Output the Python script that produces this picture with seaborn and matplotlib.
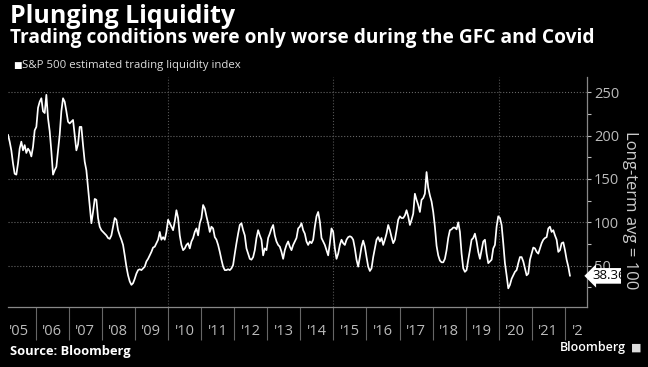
import pandas as pd
import matplotlib
matplotlib.use("Agg")
import matplotlib.pyplot as plt
import matplotlib.dates as mdates
import matplotlib.ticker as mticker
import matplotlib.transforms as mtransforms
import seaborn as sns

liq_2005_08 = [201, 193, 183, 168, 156, 155, 168, 185, 193, 183, 189, 180, 185, 182, 176, 187,
               206, 210, 232, 239, 243, 228, 226, 247, 220, 205, 182, 155, 160, 164, 182, 201,
               228, 243, 239, 228, 216, 214, 216, 218, 200, 183, 190, 210, 210, 189, 170, 160,
               140, 120, 99, 112, 127, 126, 105, 95, 91, 89, 87, 85, 82, 81, 85, 95]
liq_2008_11 = [105, 103, 91, 85, 80, 74, 62, 49, 39, 32, 28, 30, 35, 41, 45, 46, 45, 47, 49, 55,
               58, 62, 66, 71, 72, 76, 80, 89, 80, 83, 80, 89, 103, 99, 95, 91, 101, 114, 105, 85,
               74, 68, 70, 74, 76, 70, 78, 82, 89, 93, 85, 99, 105, 120, 116, 107, 99, 89, 95, 93,
               83, 80, 74, 66, 57, 49, 45, 45, 46]
liq_2011_15 = [45, 47, 51, 64, 76, 87, 97, 99, 91, 85, 70, 64, 58, 57, 60, 68, 82, 91, 85, 80,
               62, 70, 68, 82, 87, 93, 97, 85, 78, 74, 72, 66, 58, 68, 74, 78, 72, 68, 74, 78,
               82, 93, 95, 99, 91, 87, 78, 74, 78, 76, 80, 95, 107, 112, 101, 82, 78, 74, 68, 62,
               76, 93, 89, 70, 58, 64, 74, 80, 76]
liq_2015_18 = [74, 80, 83, 84, 83, 80, 70, 57, 49, 60, 72, 79, 72, 60, 49, 44, 47, 60, 70, 80,
               83, 78, 82, 74, 80, 87, 97, 91, 83, 76, 80, 91, 103, 107, 105, 105, 108, 114, 107, 97,
               103, 110, 133, 126, 120, 112, 126, 128, 133, 158, 140, 131, 124, 112, 95, 73, 62, 56, 54, 54,
               58, 68, 82, 91, 92, 94, 94, 92, 100]
liq_2018_22 = [89, 64, 47, 43, 45, 57, 68, 80, 82, 87, 78, 66, 58, 68, 78, 80, 64, 53, 55, 57,
               70, 74, 95, 107, 105, 97, 76, 53, 39, 24, 28, 35, 39, 43, 45, 53, 60, 60, 55, 47,
               39, 41, 57, 64, 71, 70, 66, 64, 70, 76, 80, 82, 83, 93, 95, 89, 91, 85, 80, 66,
               68, 76, 77, 68, 57, 49, 38.36]

start_date = "2005-03-01"
end_date = "2022-02-25"
axis_end = "2022-09-01"
grid_years = ["2010-01-01", "2015-01-01", "2020-01-01"]
y_major = [50, 100, 150, 200, 250]
y_minor = [25, 75, 125, 175, 225]

values = liq_2005_08 + liq_2008_11 + liq_2011_15 + liq_2015_18 + liq_2018_22
dates = pd.date_range(start_date, end_date, periods=len(values))
df = pd.DataFrame({"date": dates, "liquidity": values})
last_value = values[-1]

sns.set_theme(style="dark", rc={"axes.facecolor": "black", "figure.facecolor": "black",
                                "savefig.facecolor": "black"})
plt.rcParams["font.family"] = ["Open Sans", "DejaVu Sans"]

fig = plt.figure(figsize=(6.48, 3.67), dpi=100)
ax = fig.add_axes([8 / 648, 60 / 367, 579 / 648, 230 / 367])

sns.lineplot(data=df, x="date", y="liquidity", color="white", lw=1.25, ax=ax)

ax.set_xlim(pd.Timestamp(start_date), pd.Timestamp(axis_end))
ax.set_ylim(2.5, 267.5)
ax.set_xlabel("")
ax.set_ylabel("")

# right hand axis
ax.yaxis.tick_right()
ax.yaxis.set_major_locator(mticker.FixedLocator(y_major))
ax.yaxis.set_minor_locator(mticker.FixedLocator(y_minor))
ax.tick_params(axis="y", which="both", colors="#bbbbbb", labelsize=10.5, length=3,
               width=0.8, direction="out", pad=2, right=True, left=False)
ax.grid(axis="y", which="major", color="#666666", ls=":", lw=0.8)
for g in grid_years:
    ax.axvline(pd.Timestamp(g), color="#555555", ls=":", lw=0.8, zorder=0)

# year separators + labels in between
ax.xaxis.set_major_locator(mdates.YearLocator())
ax.xaxis.set_major_formatter(mticker.NullFormatter())
ax.xaxis.set_minor_locator(mdates.MonthLocator(bymonth=7, bymonthday=1))
ax.xaxis.set_minor_formatter(mdates.DateFormatter("'%y"))
ax.tick_params(axis="x", which="major", length=24, width=0.8, color="#666666",
               direction="out", bottom=True)
ax.tick_params(axis="x", which="minor", length=0, pad=12, labelsize=10.5,
               labelcolor="#bbbbbb", bottom=True)

for side in ["left", "top"]:
    ax.spines[side].set_visible(False)
for side in ["right", "bottom"]:
    ax.spines[side].set_visible(True)
    ax.spines[side].set_color("#888888")
    ax.spines[side].set_linewidth(0.9)

# last value tag
ax.annotate(f"{last_value:.2f}", xy=(1.0, last_value), xycoords=("axes fraction", "data"),
            xytext=(4, 0), textcoords="offset points", ha="left", va="center",
            size=9.5, color="black", annotation_clip=False,
            bbox=dict(boxstyle="larrow,pad=0.1", fc="white", ec="none"))

fig.text(630 / 648, 1 - 210 / 367, "Long-term avg = 100", rotation=270, ha="center",
         va="center", size=12, color="#cccccc",
         bbox=dict(fc="black", ec="none", pad=1))

# titles
fig.text(10 / 648, 1 - 23 / 367, "Plunging Liquidity", color="white", weight="bold",
         size=18, va="baseline")
fig.text(10 / 648, 1 - 43 / 367, "Trading conditions were only worse during the GFC and Covid",
         color="white", weight="bold", size=13.8, va="baseline")
fig.text(13 / 648, 1 - 68 / 367, "\u25a0", color="white", size=6.5, va="baseline",
         family="DejaVu Sans")
fig.text(22 / 648, 1 - 68 / 367, "S&P 500 estimated trading liquidity index",
         color="#dddddd", size=8.2, va="baseline")

fig.text(10 / 648, 1 - 355 / 367, "Source: Bloomberg", color="white", weight="bold",
         size=9.3, va="baseline")
fig.text(626 / 648, 1 - 351 / 367, "Bloomberg", color="white", weight="semibold",
         size=9, va="baseline", ha="right")
fig.text(631 / 648, 1 - 351 / 367, "\u25a0", color="#dddddd", size=8, va="baseline",
         family="DejaVu Sans")

fig.canvas.draw()
# the last year label is cut off at the right edge like in the original
clip = mtransforms.TransformedBbox(mtransforms.Bbox.from_extents(-1, -1, 0.993, 1),
                                   ax.transAxes)
for lbl in ax.get_xticklabels(minor=True):
    lbl.set_clip_on(True)
    lbl.set_clip_box(clip)

fig.savefig("out.png", dpi=100)
